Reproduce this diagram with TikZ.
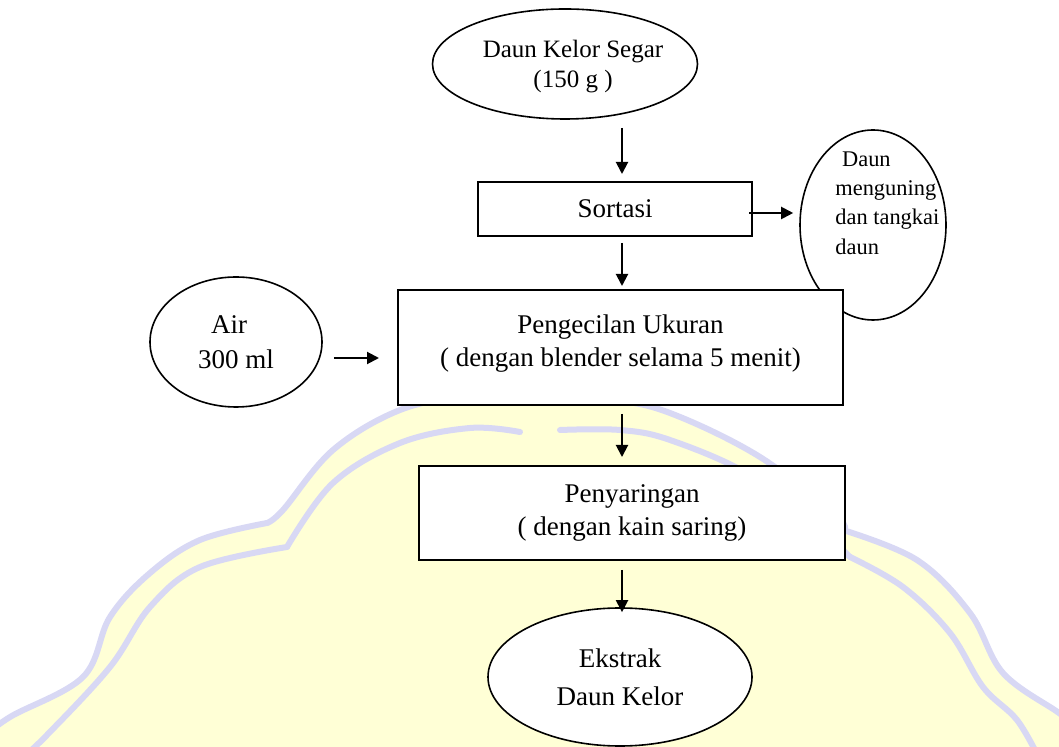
\documentclass[tikz,border=0pt]{standalone}
\usepackage{fontspec}
\setmainfont{Liberation Serif}
\usetikzlibrary{arrows.meta,shapes.geometric,calc}
\definecolor{wmY}{RGB}{255,255,214}
\definecolor{wmL}{RGB}{216,216,244}
\tikzset{
  proc/.style={draw, line width=1pt, fill=white, rectangle, inner sep=0pt, align=center,
    font=\fontsize{13.5pt}{16.5pt}\selectfont},
  oval/.style={draw, line width=0.8pt, fill=white, ellipse, inner sep=0pt, align=center,
    font=\fontsize{13.5pt}{16.5pt}\selectfont},
  arr/.style={line width=1pt, -{Triangle[length=6pt,width=6pt]}},
  wmline/.style={wmL, line width=3pt, line join=round, line cap=round}
}
\begin{document}
\begin{tikzpicture}[x=0.5pt,y=-0.5pt]
\useasboundingbox (0,0) rectangle (1059,747);
% watermark (faint background logo)
\fill[wmY] (-20,780) -- plot[smooth, tension=0.6] coordinates {(-20,740) (10,717) (83,677) (110,617) (150,573) (200,540) (267,523)}
  -- plot[smooth, tension=0.6] coordinates {(267,523) (283,510) (333,450) (400,410) (470,396) (525,400)}
  -- (530,330) -- (560,330)
  -- plot[smooth, tension=0.6] coordinates {(560,400) (610,400) (670,413) (760,457) (837,517) (843,530)}
  -- plot[smooth, tension=0.6] coordinates {(843,530) (917,560) (970,613) (1003,673) (1059,713) (1080,730)}
  -- (1080,780) -- cycle;
\draw[wmline] plot[smooth, tension=0.6] coordinates {(-20,740) (10,717) (83,677) (110,617) (150,573) (200,540) (267,523)};
\draw[wmline] plot[smooth, tension=0.6] coordinates {(267,523) (283,510) (333,450) (400,410) (470,396) (525,400)};
\draw[wmline] plot[smooth, tension=0.6] coordinates {(545,400) (610,400) (670,413) (760,457) (837,517) (843,530)};
\draw[wmline] plot[smooth, tension=0.6] coordinates {(843,530) (917,560) (970,613) (1003,673) (1059,713) (1080,730)};
\draw[wmline] plot[smooth, tension=0.6] coordinates {(20,760) (47,735) (110,667) (150,607) (200,567) (287,547)};
\draw[wmline] plot[smooth, tension=0.6] coordinates {(287,547) (333,483) (400,443) (470,428) (520,432)};
\draw[wmline] plot[smooth, tension=0.6] coordinates {(560,430) (620,430) (670,440) (750,475) (820,530) (850,557)};
\draw[wmline] plot[smooth, tension=0.6] coordinates {(850,557) (903,587) (950,633) (983,687) (1017,720) (1040,760)};

\coordinate (spine) at (622,0);

\node[oval, minimum width=132.5pt, minimum height=55pt,
  label={[name=topT, align=center, inner sep=0pt, font=\fontsize{12.5pt}{15pt}\selectfont, xshift=4pt, yshift=-1.5pt]center:Daun Kelor Segar\\(150 g )}]
  (top) at (565,64) {};
\node[proc, minimum width=137pt, minimum height=27pt] (sort) at (615,209) {Sortasi};
\node[oval, minimum width=73pt, minimum height=95pt] (circ) at (873,225) {};
\node[anchor=west, align=left, inner sep=0pt, font=\fontsize{11.2pt}{14.6pt}\selectfont] (circT) at (835,203)
  {\hspace*{0.3em}Daun\\menguning\\dan tangkai\\daun};
\node[proc, minimum width=222.5pt, minimum height=57.5pt] (peng) at (620.5,347.5)
  {Pengecilan Ukuran\\( dengan blender selama 5 menit)\\[-10pt]\mbox{}};
\node[oval, minimum width=86pt, minimum height=65pt, font=\fontsize{13.5pt}{17.5pt}\selectfont] (air) at (236,342)
  {Air\hspace*{7pt}\\300 ml};
\node[proc, minimum width=213pt, minimum height=47pt] (pen2) at (632,513)
  {Penyaringan\\( dengan kain saring)};
\node[oval, minimum width=132pt, minimum height=69pt, font=\fontsize{13.5pt}{19pt}\selectfont] (ekst) at (620,677)
  {Ekstrak\\Daun Kelor};

\draw[arr, shorten <=4pt, shorten >=3.5pt] (top.south -| spine) -- (sort.north -| spine);
\draw[arr, shorten <=3pt, shorten >=1.5pt] (sort.south -| spine) -- (peng.north -| spine);
\draw[arr, shorten <=4pt, shorten >=4pt] (peng.south -| spine) -- (pen2.north -| spine);
\draw[arr, shorten <=4.5pt] (pen2.south -| spine) -- ([yshift=-2.5pt]ekst.north -| spine);
\draw[arr, shorten <=-2pt, shorten >=3pt] ([yshift=-2pt]sort.east) -- ([yshift=-2pt]sort.east -| circ.west);
\draw[arr, shorten <=5.5pt, shorten >=9pt] ([yshift=-8pt]air.east) -- ([yshift=-8pt]air.east -| peng.west);
\end{tikzpicture}
\end{document}
